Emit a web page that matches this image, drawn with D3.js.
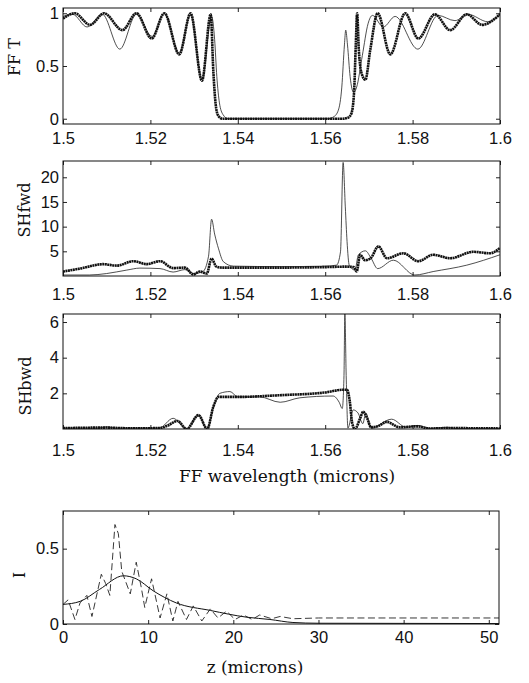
<!DOCTYPE html>
<html>
<head>
<meta charset="utf-8">
<script src="https://cdn.jsdelivr.net/npm/d3@7"></script>
<style>
  html, body { margin: 0; padding: 0; background: #fff; }
  svg { display: block; }
  .tick text { font-family: "Liberation Sans", Arial, sans-serif; font-size: 16.5px; fill: #111; }
  .tick line { stroke: #222; }
  .domain { display: none; }
  .lbl { font-family: "DejaVu Serif", serif; font-size: 16px; fill: #111; }
</style>
</head>
<body>
<svg id="fig" width="529" height="683"></svg>
<script>
// Four stacked panels: FF transmission, forward SH, backward SH vs wavelength,
// then intensity profile along z.

// --- data -----------------------------------------------------------------
var lamTicks = [1.5, 1.52, 1.54, 1.56, 1.58, 1.6];
var zTicks = [0, 10, 20, 30, 40, 50];

var fftTicks = [0, 0.5, 1];
var fftThick = [[1.5000,0.95],[1.5027,1.00],[1.5062,0.89],[1.5094,1.00],[1.5136,0.84],[1.5168,1.00],
    [1.5203,0.76],[1.5232,1.00],[1.5266,0.61],[1.5292,1.00],[1.5318,0.36],[1.5338,0.99],[1.5344,0.45],
    [1.5349,0.15],[1.5355,0.03],[1.5365,0.00],[1.5640,0.00],[1.5652,0.01],[1.5660,0.05],[1.5666,0.25],
    [1.5670,0.70],[1.5673,1.00],[1.5677,0.65],[1.5684,0.42],[1.5692,0.37],[1.5703,0.65],[1.5720,1.00],
    [1.5749,0.61],[1.5783,1.00],[1.5813,0.76],[1.5851,0.99],[1.5886,0.84],[1.5924,0.99],[1.5959,0.89],
    [1.6000,0.99]];
var fftThin = [[1.5000,0.97],[1.5022,0.99],[1.5055,0.87],[1.5090,0.99],[1.5130,0.66],[1.5168,0.99],
    [1.5204,0.78],[1.5232,1.00],[1.5266,0.62],[1.5292,0.99],[1.5318,0.37],[1.5340,0.97],[1.5347,0.75],
    [1.5352,0.40],[1.5358,0.15],[1.5366,0.04],[1.5378,0.00],[1.5605,0.00],[1.5620,0.02],[1.5630,0.08],
    [1.5638,0.30],[1.5644,0.70],[1.5647,0.84],[1.5651,0.70],[1.5657,0.40],[1.5665,0.25],[1.5672,0.30],
    [1.5685,0.60],[1.5698,0.90],[1.5708,0.98],[1.5733,0.87],[1.5760,0.97],[1.5812,0.66],[1.5858,0.98],
    [1.5897,0.93],[1.5927,0.99],[1.5972,0.92],[1.6000,0.99]];

var shfTicks = [5, 10, 15, 20];
var shfThick = [[1.5000,0.9],[1.5039,1.5],[1.5092,2.4],[1.5123,2.1],[1.5161,3.0],[1.5192,2.4],
    [1.5222,3.0],[1.5252,1.6],[1.5279,1.7],[1.5298,0.3],[1.5313,0.9],[1.5329,0.5],[1.5340,3.5],
    [1.5351,1.9],[1.5365,1.7],[1.5500,1.7],[1.5600,1.8],[1.5650,1.9],[1.5665,1.8],[1.5672,0.9],
    [1.5680,4.3],[1.5691,3.2],[1.5703,3.5],[1.5722,6.0],[1.5741,3.6],[1.5779,4.6],[1.5813,3.0],
    [1.5847,4.3],[1.5886,3.6],[1.5939,4.9],[1.5977,4.6],[1.6000,5.7]];
var shfThin = [[1.5000,0.2],[1.5060,0.2],[1.5100,0.5],[1.5146,1.2],[1.5176,1.6],[1.5222,1.5],
    [1.5252,0.8],[1.5279,1.3],[1.5300,0.5],[1.5320,0.9],[1.5333,4.0],[1.5340,11.5],[1.5347,8.5],
    [1.5356,5.5],[1.5367,2.9],[1.5390,2.0],[1.5500,1.9],[1.5600,2.0],[1.5626,2.2],[1.5635,4.9],
    [1.5641,23.0],[1.5646,14.0],[1.5650,7.0],[1.5655,2.2],[1.5668,1.2],[1.5676,4.3],[1.5692,5.1],
    [1.5705,3.6],[1.5720,1.5],[1.5756,3.2],[1.5805,0.2],[1.5847,0.9],[1.5924,2.2],[1.6000,4.3]];

var shbTicks = [2, 4, 6];
var shbThick = [[1.5000,0.05],[1.5100,0.08],[1.5150,0.04],[1.5220,0.05],[1.5240,0.2],[1.5262,0.45],
    [1.5283,0.0],[1.5310,0.78],[1.5330,0.0],[1.5344,1.25],[1.5356,1.8],[1.5400,1.8],[1.5500,1.9],
    [1.5600,2.05],[1.5640,2.2],[1.5650,2.2],[1.5656,1.6],[1.5662,0.3],[1.5668,0.0],[1.5680,0.6],
    [1.5687,0.97],[1.5696,0.6],[1.5705,0.1],[1.5720,0.15],[1.5741,0.4],[1.5770,0.1],[1.5810,0.15],
    [1.5840,0.03],[1.5880,0.05],[1.6000,0.03]];
var shbThin = [[1.5000,0.05],[1.5080,0.05],[1.5100,0.12],[1.5120,0.05],[1.5220,0.05],[1.5252,0.6],
    [1.5283,0.0],[1.5310,0.78],[1.5330,0.0],[1.5345,1.3],[1.5359,2.0],[1.5382,2.1],[1.5400,1.8],
    [1.5450,1.8],[1.5497,1.5],[1.5542,1.75],[1.5618,1.85],[1.5632,1.5],[1.5639,1.15],[1.5643,3.0],
    [1.5645,6.5],[1.5648,3.0],[1.5652,0.05],[1.5664,1.07],[1.5675,0.9],[1.5686,0.3],[1.5693,0.9],
    [1.5705,0.05],[1.5752,0.55],[1.5785,0.1],[1.5812,0.2],[1.5840,0.03],[1.5880,0.1],[1.5900,0.02],
    [1.6000,0.02]];

var iTicks = [0, 0.5];
var iSolid = [[0,0.13],[2,0.15],[4.3,0.23],[7.1,0.32],[8.6,0.30],[10.6,0.22],[13.3,0.14],[17.3,0.09],
    [21.6,0.045],[24.3,0.03],[27,0.01],[30,0.005],[51.2,0.003]];
var iDashed = [[0,0.13],[0.6,0.16],[1.4,0.03],[2.0,0.14],[2.8,0.19],[3.4,0.05],[4.5,0.33],[5.0,0.27],
    [5.5,0.19],[6.1,0.66],[6.5,0.6],[6.9,0.35],[7.9,0.2],[8.6,0.41],[9.2,0.24],[9.6,0.11],[10.4,0.3],
    [11.4,0.04],[12.2,0.2],[12.9,0.02],[13.5,0.15],[14.5,0.03],[15.3,0.12],[16.3,0.02],[17.3,0.1],
    [18.2,0.04],[19.2,0.085],[20.2,0.03],[21.2,0.06],[22.2,0.03],[23.1,0.06],[24.5,0.035],[25.5,0.05],
    [27,0.035],[30,0.04],[51.2,0.04]];

// --- drawing --------------------------------------------------------------
var svg = d3.select('#fig');

function panel(o) {
    var x = d3.scaleLinear().domain(o.xd).range([o.x0, o.x1]);
    var y = d3.scaleLinear().domain(o.yd).range([o.y1, o.y0]);
    var g = svg.append('g');

    var clipId = 'clip' + o.id;
    g.append('clipPath').attr('id', clipId).append('rect')
        .attr('x', o.x0).attr('y', o.y0).attr('width', o.x1 - o.x0).attr('height', o.y1 - o.y0);

    // inward ticks on all four sides, labels only bottom/left
    g.append('g').attr('transform', 'translate(0,' + o.y1 + ')')
        .call(d3.axisBottom(x).tickValues(o.xt).tickSize(-4).tickPadding(o.xpad)
            .tickFormat(function (d) { return String(+d.toFixed(2)); }));
    g.append('g').attr('transform', 'translate(0,' + o.y0 + ')')
        .call(d3.axisTop(x).tickValues(o.xt).tickSize(-4).tickFormat(''));
    g.append('g').attr('transform', 'translate(' + o.x0 + ',0)')
        .call(d3.axisLeft(y).tickValues(o.yt).tickSize(-4).tickPadding(4)
            .tickFormat(function (d) { return String(d); }));
    g.append('g').attr('transform', 'translate(' + o.x1 + ',0)')
        .call(d3.axisRight(y).tickValues(o.yt).tickSize(-4).tickFormat(''));

    var lines = g.append('g').attr('clip-path', 'url(#' + clipId + ')');
    o.series.forEach(function (s) {
        lines.append('path')
            .datum(s.data)
            .attr('fill', 'none')
            .attr('stroke', s.color || '#111')
            .attr('stroke-width', s.w)
            .attr('stroke-dasharray', s.dash || null)
            .attr('stroke-linejoin', 'round')
            .attr('d', d3.line()
                .x(function (d) { return x(d[0]); })
                .y(function (d) { return y(d[1]); })
                .curve(s.curve || d3.curveMonotoneX));
    });

    g.append('rect')
        .attr('x', o.x0).attr('y', o.y0)
        .attr('width', o.x1 - o.x0).attr('height', o.y1 - o.y0)
        .attr('fill', 'none').attr('stroke', '#111').attr('stroke-width', 1);

    g.append('text').attr('class', 'lbl')
        .attr('transform', 'translate(' + o.ylx + ',' + o.yly + ') rotate(-90)')
        .attr('text-anchor', 'middle').attr('dy', '0.35em')
        .text(o.ylabel);
    if (o.xlabel) {
        g.append('text').attr('class', 'lbl')
            .attr('x', o.xlx).attr('y', o.xly)
            .attr('text-anchor', 'middle').style('font-size', '17px')
            .text(o.xlabel);
    }
}

var THICK = 2.6, THIN = 0.8;

panel({ id: 1, x0: 63, x1: 500, y0: 8, y1: 124, xd: [1.5, 1.6], yd: [-0.05, 1.05],
    xt: lamTicks, yt: fftTicks, xpad: 8, ylabel: 'FF T', ylx: 14, yly: 57,
    series: [
        { data: fftThin, w: THIN, color: '#222' },
        { data: fftThick, w: THICK, dash: '2,0.5' }
    ] });

panel({ id: 2, x0: 63, x1: 500, y0: 161, y1: 276, xd: [1.5, 1.6], yd: [0, 23.3],
    xt: lamTicks, yt: shfTicks, xpad: 12, ylabel: 'SHfwd', ylx: 24, yly: 210,
    series: [
        { data: shfThin, w: THIN, color: '#222' },
        { data: shfThick, w: THICK, dash: '2,0.5' }
    ] });

panel({ id: 3, x0: 63, x1: 500, y0: 314, y1: 429, xd: [1.5, 1.6], yd: [0, 6.45],
    xt: lamTicks, yt: shbTicks, xpad: 15, ylabel: 'SHbwd', ylx: 25, yly: 386,
    xlabel: 'FF wavelength (microns)', xlx: 287, xly: 482,
    series: [
        { data: shbThin, w: THIN, color: '#222' },
        { data: shbThick, w: THICK, dash: '2,0.5' }
    ] });

panel({ id: 4, x0: 63, x1: 499, y0: 511, y1: 624, xd: [0, 51.2], yd: [0, 0.75],
    xt: zTicks, yt: iTicks, xpad: 7, ylabel: 'I', ylx: 19, yly: 575,
    xlabel: 'z (microns)', xlx: 255, xly: 673,
    series: [
        { data: iSolid, w: 1, color: '#111' },
        { data: iDashed, w: 0.9, color: '#222', dash: '7,3.5', curve: d3.curveLinear }
    ] });
</script>
</body>
</html>
